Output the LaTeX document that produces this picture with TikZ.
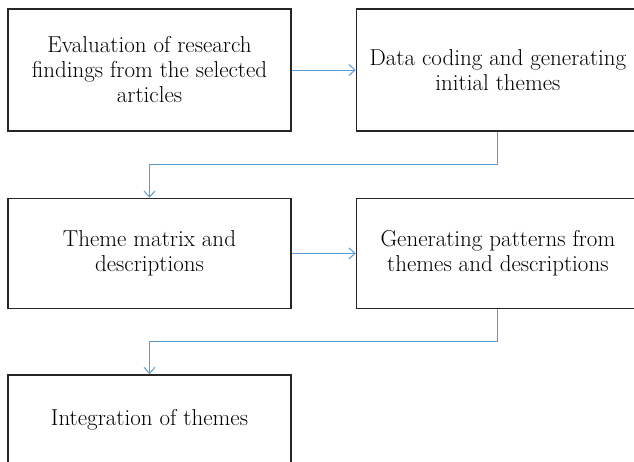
\documentclass[tikz,border=0pt]{standalone}
\usepackage{xcolor}
\usepackage{tikz}
\usetikzlibrary{arrows.meta, positioning, calc}
\definecolor{flowblue}{RGB}{91,155,213}
\tikzset{
  stagebox/.style = {rectangle, draw=black!85, line width=1.4pt,
                     fill=white, align=center,
                     minimum width=283pt, minimum height=122pt,
                     font=\fontsize{23}{25}\selectfont},
  lowbox/.style   = {stagebox, minimum height=110pt},
  arr/.style      = {-{Straight Barb[length=6pt,width=11pt]},
                     draw=flowblue, line width=1pt},
}
\begin{document}
\begin{tikzpicture}[x=1pt, y=1pt]

% -- canvas -------------------------------------------------
\useasboundingbox (0,0) rectangle (634,-461);
\clip (0,0) rectangle (634,-461);
\fill[white] (0,0) rectangle (634,-461);

% -- first row ----------------------------------------------
\node[stagebox] (eval) at (149.5,-70)
      {Evaluation of research\\findings from the selected\\articles};
\node[stagebox, right=64pt of eval] (coding)
      {Data coding and generating\\initial themes};

% -- second row ---------------------------------------------
\node[lowbox, below=66pt of eval] (matrix)
      {Theme matrix and\\descriptions};
\node[lowbox, right=64pt of matrix] (patterns)
      {Generating patterns from\\themes and descriptions};

% -- last stage ---------------------------------------------
\node[stagebox, minimum height=90pt, below=65pt of matrix] (integr)
      {Integration of themes};

% -- arrows -------------------------------------------------
\draw[arr] (eval) -- (coding);
\draw[arr] (coding.south) |- ($(coding.south)!.5!(matrix.north)$)
           -| (matrix.north);
\draw[arr] (matrix) -- (patterns);
\draw[arr] (patterns.south) |- ($(patterns.south)!.5!(integr.north)$)
           -| (integr.north);

\end{tikzpicture}
\end{document}
